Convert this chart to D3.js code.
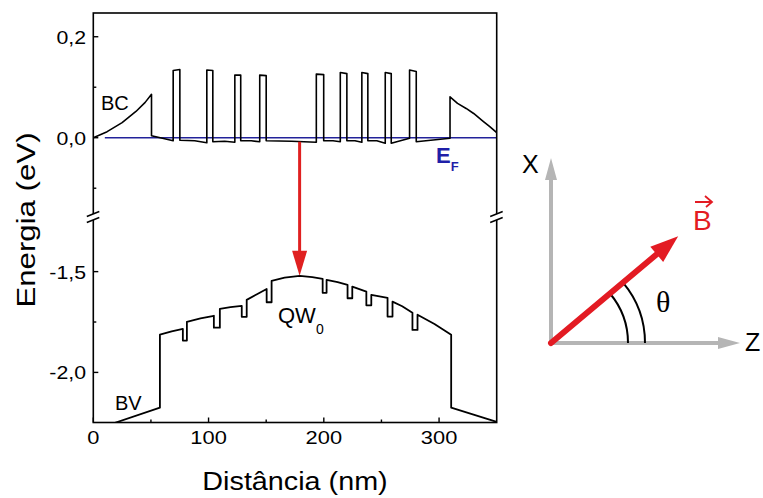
<!DOCTYPE html>
<html>
<head>
<meta charset="utf-8">
<script src="https://cdn.jsdelivr.net/npm/d3@7"></script>
<style>
  body { margin: 0; background: #fff; }
  text { font-family: Arial, "Liberation Sans", sans-serif; }
</style>
</head>
<body>
<script>
window.onload = function() {

  // conduction band (BC), [distance nm, energy eV]
  var bcPoints = [
    [0, 0.000], [12, 0.012], [25, 0.030], [37, 0.052], [45, 0.070], [50.5, 0.086],
    [50.5, 0.004], [60, -0.001], [69.3, -0.006],
    [69.3, 0.133], [75.1, 0.135], [75.1, -0.005], [88, -0.006], [98.5, -0.010],
    [98.5, 0.134], [103.7, 0.133], [103.7, -0.008], [114, -0.007], [122.8, -0.009],
    [122.8, 0.124], [127.9, 0.124], [127.9, -0.006], [137, -0.006], [144.4, -0.008],
    [144.4, 0.124], [150.0, 0.123], [150.0, -0.006], [172, -0.007], [193.5, -0.009],
    [193.5, 0.126], [199.9, 0.125], [199.9, -0.006], [208, -0.006], [214.3, -0.008],
    [214.3, 0.129], [220.0, 0.127], [220.0, -0.006], [227, -0.006], [233.0, -0.009],
    [233.0, 0.129], [238.2, 0.127], [238.2, -0.006], [246, -0.006], [253.3, -0.011],
    [253.3, 0.129], [258.5, 0.127], [258.5, -0.011], [274.4, -0.001],
    [274.4, 0.134], [280.2, 0.131], [280.2, -0.008], [309.5, -0.001],
    [309.5, 0.081], [316, 0.068], [323.5, 0.058], [330, 0.048], [338, 0.033], [344, 0.022], [350, 0.010]
  ];

  // valence band (BV)
  var bvPoints = [
    [18.8, -2.25], [57.8, -2.175], [57.8, -1.813], [68, -1.796], [77.7, -1.784],
    [77.7, -1.842], [81.2, -1.842], [81.2, -1.749], [93, -1.732], [104.6, -1.719],
    [104.6, -1.778], [109.8, -1.778], [109.8, -1.685], [119, -1.676], [128.8, -1.670],
    [128.8, -1.724], [133.1, -1.724], [133.1, -1.640], [142, -1.612], [150.4, -1.586],
    [150.4, -1.652], [154.7, -1.652], [154.7, -1.546], [166, -1.530], [179.1, -1.521],
    [190, -1.527], [199.0, -1.536], [199.0, -1.605], [202.4, -1.605], [202.4, -1.541],
    [212, -1.552], [220.6, -1.566], [220.6, -1.632], [224.7, -1.632], [224.7, -1.574],
    [236.9, -1.599], [236.9, -1.667], [241.2, -1.667], [241.2, -1.615], [255.3, -1.630],
    [255.3, -1.723], [259.6, -1.723], [259.6, -1.649], [268, -1.672], [276.9, -1.704],
    [276.9, -1.789], [281.3, -1.789], [281.3, -1.714], [296, -1.760], [310.5, -1.813],
    [310.5, -2.175], [350, -2.245]
  ];

  // Fermi level
  var fermiLevel = 0.0;
  var fermiRange = [10, 350];

  // optical transition arrow
  var transitionX = 179;
  var transitionFrom = -0.008;
  var transitionTo = -1.521;

  var xTicks = [0, 100, 200, 300];
  var xMinorTicks = [50, 150, 250];
  var yTopTicks = [0.2, 0.0];
  var yTopMinor = [0.1, -0.1];
  var yBotTicks = [-1.5, -2.0];
  var yBotMinor = [-1.75];

  var thetaDeg = 40;

  var fmt = function(d) { return d3.format('.1f')(d).replace('.', ',').replace('−', '-'); };

  var left = 93.3, right = 496.7, top = 13, bottom = 422.5, breakY = 217;

  var svg = d3.select('body').append('svg').attr('width', 763).attr('height', 498);

  // text drawn a bit wider than Arial, like the original export
  var wideText = function(px, py, str, size, anchor) {
    return svg.append('text')
      .attr('transform', 'translate(' + px + ',' + py + ') scale(1.15,1)')
      .attr('text-anchor', anchor || 'start').attr('font-size', size).text(str);
  };

  var x = d3.scaleLinear().domain([0, 350]).range([left, right]);
  var yTop = d3.scaleLinear().domain([-0.157, 0.247]).range([breakY, top]);
  var yBot = d3.scaleLinear().domain([-2.2485, -1.229]).range([bottom, breakY]);

  svg.append('clipPath').attr('id', 'clip')
     .append('rect').attr('x', left).attr('y', top).attr('width', right - left).attr('height', bottom - top);

  var plot = svg.append('g').attr('clip-path', 'url(#clip)');

  // E_F line
  plot.append('line')
      .attr('x1', x(fermiRange[0])).attr('x2', x(fermiRange[1]))
      .attr('y1', yTop(fermiLevel)).attr('y2', yTop(fermiLevel))
      .attr('stroke', '#22229a').attr('stroke-width', 1.5);

  plot.append('path')
      .datum(bcPoints)
      .attr('d', d3.line().x(function(d) { return x(d[0]); }).y(function(d) { return yTop(d[1]); }))
      .attr('fill', 'none').attr('stroke', '#000').attr('stroke-width', 1.6).attr('stroke-linejoin', 'round');

  plot.append('path')
      .datum(bvPoints)
      .attr('d', d3.line().x(function(d) { return x(d[0]); }).y(function(d) { return yBot(d[1]); }))
      .attr('fill', 'none').attr('stroke', '#000').attr('stroke-width', 1.8).attr('stroke-linejoin', 'round');

  // red transition arrow
  var ax = x(transitionX), ay1 = yTop(transitionFrom), ay2 = yBot(transitionTo);
  svg.append('line')
     .attr('x1', ax).attr('x2', ax).attr('y1', ay1).attr('y2', ay2 - 22)
     .attr('stroke', '#e02020').attr('stroke-width', 3);
  svg.append('path')
     .attr('d', 'M' + (ax - 7.5) + ',' + (ay2 - 25) + 'L' + (ax + 7.5) + ',' + (ay2 - 25) + 'L' + ax + ',' + ay2 + 'Z')
     .attr('fill', '#e02020');

  // frame
  svg.append('rect')
     .attr('x', left).attr('y', top).attr('width', right - left).attr('height', bottom - top)
     .attr('fill', 'none').attr('stroke', '#000').attr('stroke-width', 1.6);

  // ticks (inside)
  var tick = function(x1, y1, x2, y2) {
    svg.append('line').attr('x1', x1).attr('y1', y1).attr('x2', x2).attr('y2', y2)
       .attr('stroke', '#000').attr('stroke-width', 1.4);
  };
  xTicks.forEach(function(d) { tick(x(d), bottom, x(d), bottom - 5); });
  xMinorTicks.forEach(function(d) { tick(x(d), bottom, x(d), bottom - 3); });
  yTopTicks.forEach(function(d) { tick(left, yTop(d), left + 5, yTop(d)); });
  yTopMinor.forEach(function(d) { tick(left, yTop(d), left + 3, yTop(d)); });
  yBotTicks.forEach(function(d) { tick(left, yBot(d), left + 5, yBot(d)); });
  yBotMinor.forEach(function(d) { tick(left, yBot(d), left + 3, yBot(d)); });

  xTicks.forEach(function(d) { wideText(x(d), 444, d, 19, 'middle'); });
  yTopTicks.forEach(function(d) { wideText(86, yTop(d) + 7, fmt(d), 18.5, 'end'); });
  yBotTicks.forEach(function(d) { wideText(86, yBot(d) + 7, fmt(d), 18.5, 'end'); });

  // axis break marks
  [left, right].forEach(function(bx) {
    svg.append('path')
       .attr('d', 'M' + (bx - 6.5) + ',' + (breakY - 0.5) + 'L' + (bx + 6) + ',' + (breakY - 5.5) +
                  'L' + (bx + 6) + ',' + (breakY + 0.5) + 'L' + (bx - 6.5) + ',' + (breakY + 5.5) + 'Z')
       .attr('fill', '#fff');
    svg.append('line').attr('x1', bx - 6.5).attr('y1', breakY - 0.5).attr('x2', bx + 6).attr('y2', breakY - 5.5)
       .attr('stroke', '#000').attr('stroke-width', 1.5);
    svg.append('line').attr('x1', bx - 6.5).attr('y1', breakY + 5.5).attr('x2', bx + 6).attr('y2', breakY + 0.5)
       .attr('stroke', '#000').attr('stroke-width', 1.5);
  });

  // axis titles
  wideText((left + right) / 2, 490, 'Distância (nm)', 25, 'middle');
  svg.append('text').attr('transform', 'translate(35,220) rotate(-90) scale(1.2,1)')
     .attr('text-anchor', 'middle').attr('font-size', 26).text('Energia (eV)');

  // labels
  svg.append('text').attr('x', 101).attr('y', 110).attr('font-size', 20).text('BC');
  svg.append('text').attr('x', 115).attr('y', 410).attr('font-size', 20).text('BV');
  var qw = svg.append('text').attr('x', 278).attr('y', 323).attr('font-size', 22);
  qw.append('tspan').text('QW');
  qw.append('tspan').attr('dy', 11).attr('font-size', 14).text('0');
  var ef = svg.append('text').attr('x', 436).attr('y', 163).attr('font-size', 22)
              .attr('font-weight', 'bold').attr('fill', '#1f1fa8');
  ef.append('tspan').text('E');
  ef.append('tspan').attr('dy', 8).attr('font-size', 13).text('F');

  // field orientation sketch
  var ox = 551, oy = 343, gray = '#b5b5b5';
  svg.append('line').attr('x1', ox).attr('y1', oy).attr('x2', ox).attr('y2', 178)
     .attr('stroke', gray).attr('stroke-width', 4);
  svg.append('path').attr('d', 'M' + (ox - 6) + ',180L' + (ox + 6) + ',180L' + ox + ',158Z').attr('fill', gray);
  svg.append('line').attr('x1', ox - 2).attr('y1', oy).attr('x2', 720).attr('y2', oy)
     .attr('stroke', gray).attr('stroke-width', 4);
  svg.append('path').attr('d', 'M718,' + (oy - 6) + 'L718,' + (oy + 6) + 'L740,' + oy + 'Z').attr('fill', gray);
  svg.append('text').attr('x', 522).attr('y', 173).attr('font-size', 25).text('X');
  svg.append('text').attr('x', 745).attr('y', 351).attr('font-size', 25).text('Z');

  var arc = d3.arc().startAngle(Math.PI / 2 - thetaDeg * Math.PI / 180).endAngle(Math.PI / 2);
  [77, 94].forEach(function(r) {
    svg.append('path').attr('transform', 'translate(' + ox + ',' + oy + ')')
       .attr('d', arc.innerRadius(r).outerRadius(r)())
       .attr('fill', 'none').attr('stroke', '#000').attr('stroke-width', 2);
  });

  var t = thetaDeg * Math.PI / 180, len = 166;
  var tx = ox + len * Math.cos(t), ty = oy - len * Math.sin(t);
  var bx0 = ox + (len - 28) * Math.cos(t), by0 = oy - (len - 28) * Math.sin(t);
  svg.append('line').attr('x1', ox).attr('y1', oy).attr('x2', bx0).attr('y2', by0)
     .attr('stroke', '#e31b23').attr('stroke-width', 6).attr('stroke-linecap', 'round');
  var nx = Math.sin(t) * 10, ny = Math.cos(t) * 10;
  svg.append('path')
     .attr('d', 'M' + (bx0 - nx) + ',' + (by0 - ny) + 'L' + (bx0 + nx) + ',' + (by0 + ny) + 'L' + tx + ',' + ty + 'Z')
     .attr('fill', '#e31b23');

  svg.append('text').attr('x', 693).attr('y', 230).attr('font-size', 28).attr('fill', '#e31b23').text('B');
  svg.append('path').attr('d', 'M695,202L712,202M705,196L712,202L706,207')
     .attr('fill', 'none').attr('stroke', '#e31b23').attr('stroke-width', 1.8);
  svg.append('text').attr('x', 656).attr('y', 312).attr('font-size', 30)
     .style('font-family', '"Liberation Serif", "DejaVu Serif", serif').text('θ');
};
</script>
</body>
</html>
